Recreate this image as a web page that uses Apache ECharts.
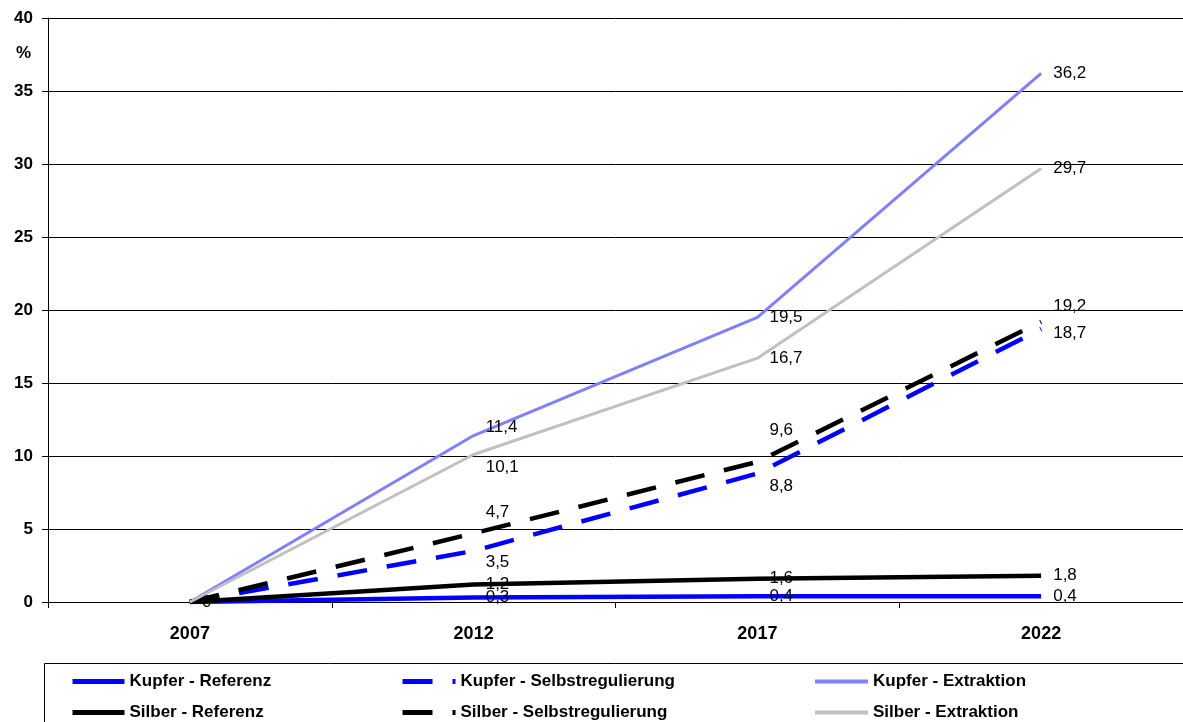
<!DOCTYPE html>
<html>
<head>
<meta charset="utf-8">
<script src="https://cdn.jsdelivr.net/npm/echarts@6/dist/echarts.min.js"></script>
<style>
  html, body { margin: 0; padding: 0; background: #fff; }
  #main { width: 1183px; height: 722px; }
</style>
</head>
<body>
<div id="main"></div>
<script>
// Daten
const years = ['2007', '2012', '2017', '2022']
const kupferReferenz = [0, 0.3, 0.4, 0.4]
const kupferSelbst = [0, 3.5, 8.8, 18.7]
const kupferExtraktion = [0, 11.4, 19.5, 36.2]
const silberReferenz = [0, 1.2, 1.6, 1.8]
const silberSelbst = [0, 4.7, 9.6, 19.2]
const silberExtraktion = [0, 10.1, 16.7, 29.7]

// vertikale Verschiebung der Beschriftungen (Layout)
const labelShift = {
    kr: [0, 0, 0, 0],
    ks: [null, 11, 13, 4],
    ke: [null, -8, 0, 0],
    sr: [null, 0, 0, 0],
    ss: [null, -21, -32, -15],
    se: [null, 13, 0, 0]
}

const font = 'Arial, "Liberation Sans", sans-serif'

function mk(name, values, color, width, dashed, shift) {
    const data = values.map((v, i) => {
        const dy = shift[i]
        if (dy === null) return { value: v, label: { show: false } }
        return { value: v, label: { offset: [0, dy] } }
    })
    return {
        name: name,
        type: 'line',
        data: data,
        symbol: 'circle',
        symbolSize: 0.1,
        showSymbol: true,
        lineStyle: {
            color: color,
            width: width,
            type: dashed ? [30, 20] : 'solid',
            cap: 'butt',
            join: 'round'
        },
        // Punkte unsichtbar, nur die Beschriftungen zeigen
        itemStyle: { color: 'rgba(0,0,0,0)' },
        label: {
            show: true,
            position: 'right',
            distance: 12,
            color: '#000',
            fontFamily: font,
            fontSize: 17,
            formatter: p => String(p.value).replace('.', ',')
        }
    }
}

const legendText = { color: '#000', fontFamily: font, fontSize: 17, fontWeight: 'bold' }

function legend(left, names, w, lw) {
    return {
        orient: 'vertical',
        left: left,
        top: 673,
        itemWidth: w,
        itemHeight: 16,
        itemGap: 14,
        padding: 0,
        selectedMode: false,
        itemStyle: { opacity: 0 },
        textStyle: legendText,
        data: names.map(n => ({ name: n, lineStyle: { width: lw } }))
    }
}

var myChart = echarts.init(document.getElementById('main'))

var option = {
    animation: false,
    backgroundColor: '#fff',
    grid: { left: 48, right: 0, top: 18, bottom: 120 },
    legend: [
        legend(70, ['Kupfer - Referenz', 'Silber - Referenz'], 52, 5),
        legend(400, ['Kupfer - Selbstregulierung', 'Silber - Selbstregulierung'], 53, 5),
        legend(813, ['Kupfer - Extraktion', 'Silber - Extraktion'], 53, 4)
    ],
    graphic: [
        {
            type: 'rect',
            shape: { x: 44.5, y: 663.5, width: 1200, height: 100 },
            style: { fill: 'none', stroke: '#000', lineWidth: 1 },
            z: -1
        },
        {
            type: 'text',
            left: 16,
            top: 45,
            style: { text: '%', fill: '#000', font: 'bold 17px Arial, "Liberation Sans", sans-serif' }
        }
    ],
    xAxis: {
        type: 'category',
        data: years,
        boundaryGap: true,
        axisLine: { lineStyle: { color: '#000', width: 1 } },
        axisTick: { show: true, length: 6, lineStyle: { color: '#000' } },
        axisLabel: { color: '#000', fontFamily: font, fontSize: 18, fontWeight: 'bold', margin: 23 },
        splitLine: { show: false }
    },
    yAxis: {
        type: 'value',
        min: 0,
        max: 40,
        interval: 5,
        axisLine: { show: true, lineStyle: { color: '#000', width: 1 } },
        axisTick: { show: true, length: 6, lineStyle: { color: '#000' } },
        axisLabel: { color: '#000', fontFamily: font, fontSize: 17, fontWeight: 'bold', margin: 15 },
        splitLine: { show: true, lineStyle: { color: '#000', width: 1 } }
    },
    series: [
        mk('Kupfer - Referenz', kupferReferenz, '#0000ff', 4.5, false, labelShift.kr),
        mk('Kupfer - Selbstregulierung', kupferSelbst, '#0000ff', 4.5, true, labelShift.ks),
        mk('Kupfer - Extraktion', kupferExtraktion, '#8080ff', 3, false, labelShift.ke),
        mk('Silber - Referenz', silberReferenz, '#000000', 4.5, false, labelShift.sr),
        mk('Silber - Selbstregulierung', silberSelbst, '#000000', 4.5, true, labelShift.ss),
        mk('Silber - Extraktion', silberExtraktion, '#c0c0c0', 3, false, labelShift.se)
    ]
}

myChart.setOption(option)
</script>
</body>
</html>
